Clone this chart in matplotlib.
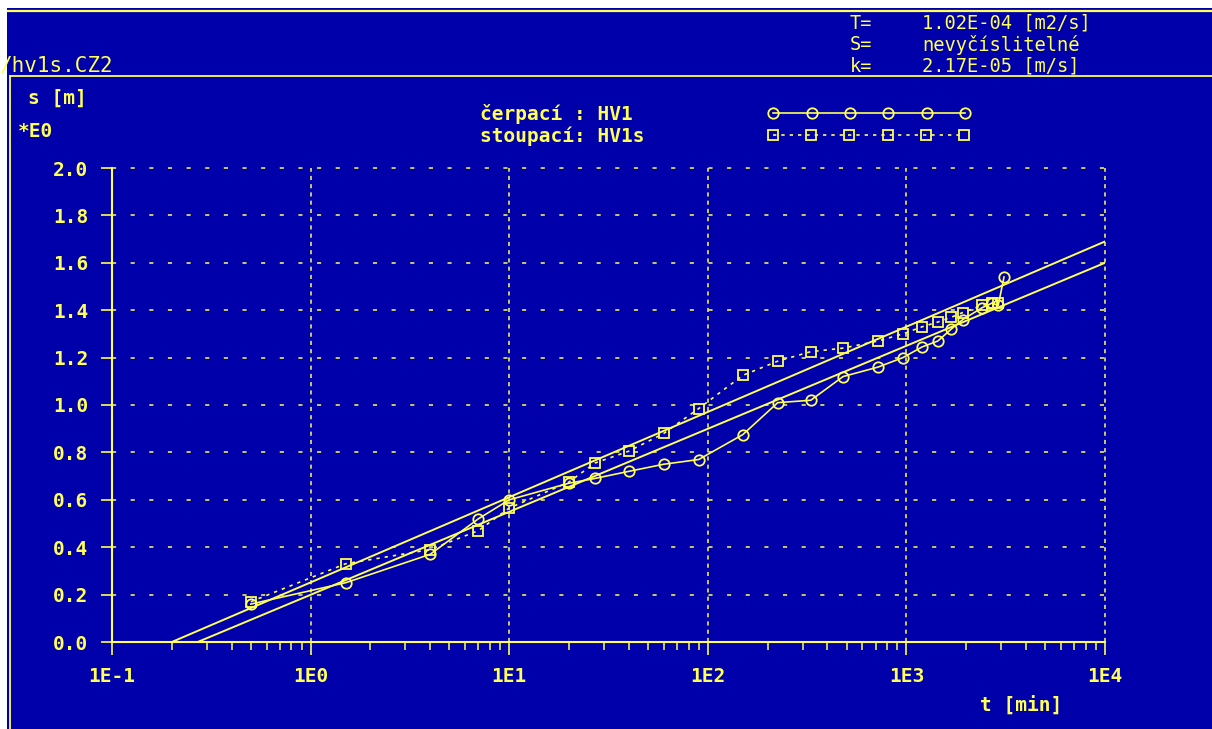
import matplotlib
matplotlib.use("Agg")
import matplotlib.pyplot as plt
from matplotlib.patches import Rectangle
from matplotlib.ticker import LogLocator, NullFormatter

# hodnoty
t_cerp = [0.5, 1.5, 4, 7, 10, 20, 27, 40, 60, 90, 150, 225, 330, 480, 720,
          960, 1200, 1440, 1680, 1920, 2400, 2700, 2900, 3100]
s_cerp = [0.16, 0.25, 0.37, 0.52, 0.60, 0.67, 0.69, 0.72, 0.75, 0.77, 0.875,
          1.01, 1.02, 1.12, 1.16, 1.20, 1.245, 1.27, 1.32, 1.36, 1.41, 1.43,
          1.42, 1.54]

t_stoup = [0.5, 1.5, 4, 7, 10, 20, 27, 40, 60, 90, 150, 225, 330, 480, 720,
           960, 1200, 1440, 1680, 1920, 2400, 2700, 2900]
s_stoup = [0.17, 0.33, 0.39, 0.47, 0.565, 0.675, 0.755, 0.805, 0.88, 0.985,
           1.125, 1.185, 1.225, 1.24, 1.27, 1.30, 1.33, 1.35, 1.37, 1.39,
           1.42, 1.43, 1.43]

# primky (dva body kazde)
fit_up_t = [0.2, 1e4]
fit_up_s = [0.0, 1.69]
fit_lo_t = [0.27, 1e4]
fit_lo_s = [0.0, 1.60]

s_ticks = [0.0, 0.2, 0.4, 0.6, 0.8, 1.0, 1.2, 1.4, 1.6, 1.8, 2.0]
t_ticks = [1e-1, 1e0, 1e1, 1e2, 1e3, 1e4]
t_labels = ["1E-1", "1E0", "1E1", "1E2", "1E3", "1E4"]

header_keys = ["T=", "S=", "k="]
header_vals = ["1.02E-04 [m2/s]", "nevyčíslitelné", "2.17E-05 [m/s]"]

BLUE = "#0000aa"
YEL = "#ffff55"
MONO = "DejaVu Sans Mono"

plt.rcParams["font.family"] = MONO
plt.rcParams["font.weight"] = "bold"

fig = plt.figure(figsize=(12.12, 7.29), dpi=100)
fig.patch.set_facecolor("white")

# pozadi v pixelech
bg = fig.add_axes([0, 0, 1, 1])
bg.set_xlim(0, 1212)
bg.set_ylim(729, 0)
bg.axis("off")
bg.add_patch(Rectangle((7, 8), 1205, 721, facecolor=BLUE, edgecolor="none"))
bg.plot([8, 1212], [11, 11], color=YEL, lw=1.6)
bg.plot([10, 1212], [76, 76], color=YEL, lw=1.3)
bg.plot([10, 10], [76, 729], color=YEL, lw=1.3)

for i, (k, v) in enumerate(zip(header_keys, header_vals)):
    y = 23 + i * 21.5
    bg.text(850, y, k, color=YEL, fontsize=13.5, fontweight="normal", va="center")
    bg.text(922, y, v, color=YEL, fontsize=13.5, fontweight="normal", va="center")
bg.text(0, 65, "/hv1s.CZ2", color=YEL, fontsize=15, fontweight="normal", va="center")

bg.text(28, 98, "s [m]", color=YEL, fontsize=14, va="center")
bg.text(18, 131, "*E0", color=YEL, fontsize=14, va="center")
bg.text(980, 705, "t [min]", color=YEL, fontsize=14, va="center")

# graf
ax = fig.add_axes([112 / 1212, 1 - 642 / 729, (1105 - 112) / 1212, (642 - 168) / 729])
ax.set_facecolor("none")
ax.set_xscale("log")
ax.set_xlim(0.1, 1e4)
ax.set_ylim(0, 2.0)

for side in ["top", "right"]:
    ax.spines[side].set_visible(False)
for side in ["left", "bottom"]:
    ax.spines[side].set_color(YEL)
    ax.spines[side].set_linewidth(1.5)

ax.set_yticks(s_ticks)
ax.set_yticklabels([f"{v:.1f}" for v in s_ticks])
ax.set_xticks(t_ticks)
ax.set_xticklabels(t_labels)
ax.xaxis.set_minor_locator(LogLocator(base=10, subs=range(2, 10)))
ax.xaxis.set_minor_formatter(NullFormatter())

ax.tick_params(axis="y", which="major", direction="out", length=8, width=1.2,
               color=YEL, labelcolor=YEL, labelsize=14, pad=9)
ax.tick_params(axis="x", which="major", direction="out", length=9, width=1.2,
               color=YEL, labelcolor=YEL, labelsize=14, pad=9)
ax.tick_params(axis="x", which="minor", direction="out", length=5.5, width=1.1,
               color=YEL)

ax.xaxis.grid(True, which="major", color=YEL, lw=1.1, ls=(0, (2.7, 2.7)))
ax.yaxis.grid(True, which="major", color=YEL, lw=1.1, ls=(0, (2.7, 9.5)))
for gl in ax.get_xgridlines() + ax.get_ygridlines():
    gl.set_clip_on(False)

l1, = ax.plot(t_cerp, s_cerp, color=YEL, lw=1.2, marker="o", ms=7.5,
              mfc="none", mec=YEL, mew=1.3, label="čerpací : HV1")
l2, = ax.plot(t_stoup, s_stoup, color=YEL, lw=1.2, ls=(0, (2, 3)), marker="s",
              ms=7, mfc="none", mec=YEL, mew=1.3, label="stoupací: HV1s")
ax.plot(fit_up_t, fit_up_s, color=YEL, lw=1.4)
ax.plot(fit_lo_t, fit_lo_s, color=YEL, lw=1.4)

# legenda: kazdy radek zvlast, aby text zacinal vlevo stejne
leg_opts = dict(loc="center left", bbox_transform=bg.transData, frameon=False,
                markerfirst=False, numpoints=6, fontsize=14, handlelength=10.45,
                borderpad=0, borderaxespad=0, labelcolor=YEL)
leg1 = ax.legend(handles=[l1], bbox_to_anchor=(480, 114), handletextpad=6.93, **leg_opts)
ax.add_artist(leg1)
ax.legend(handles=[l2], bbox_to_anchor=(480, 136), handletextpad=6.3, **leg_opts)

fig.savefig("out.png", dpi=100, facecolor=fig.get_facecolor())
